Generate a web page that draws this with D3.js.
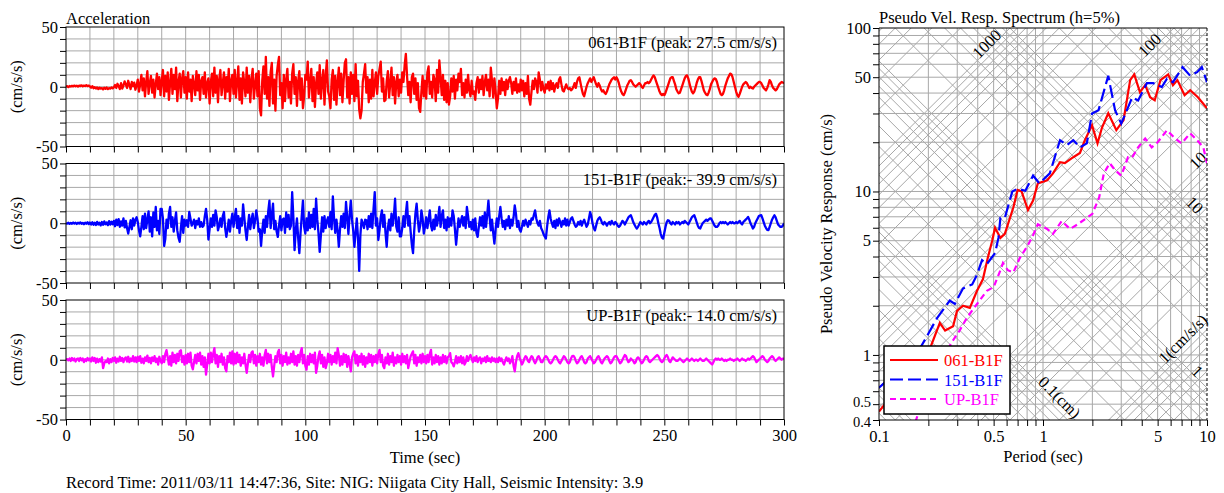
<!DOCTYPE html>
<html><head><meta charset="utf-8">
<script src="https://cdn.jsdelivr.net/npm/d3@7"></script>
<style>
html,body{margin:0;padding:0;background:#fff;}
svg{display:block;font-family:"Liberation Serif","Times New Roman",serif;}
</style></head><body>
<svg id="chart" width="1224" height="493"></svg>
<script>
// ---------------- DATA ----------------
const timeTickLabels = [0,50,100,150,200,250,300];
const accTickLabels = [50,0,-50];
const channelNames = ["061-B1F","151-B1F","UP-B1F"];
const peakTexts = ["061-B1F (peak: 27.5 cm/s/s)","151-B1F (peak:- 39.9 cm/s/s)","UP-B1F (peak:- 14.0 cm/s/s)"];
const footerText = "Record Time: 2011/03/11 14:47:36, Site: NIG: Niigata City Hall, Seismic Intensity: 3.9";

// acceleration samples, one row per 10 s (0.5 s step), last row = value at 300 s
const acc061 = [
[0,0.5,-0.3,0.6,0.2,0.8,0.3,1,0.4,0.9,0.2,1,0.5,1.2,0.4,1,0.6,1.3,0.5,1],
[0.3,-0.8,0.5,-1.2,-0.4,-1.5,-0.6,-2,-0.8,-1.6,-1.1,-2.2,-0.9,-1.8,-0.7,-2,-1.2,-1.6,-0.6,-1.4],
[-0.5,1.5,-1,2.5,0.5,-2,3,-1.5,1,4.5,2,-1,5,1.5,-2,4,0.5,3.5,-2.5,1],
[6,-4,2,10,-3,7,-8,4,13,-6,3,9,-5,6,-9,2,11,-2,8,-7],
[5,14,-8,9,-4,12,-11,3,15,-6,10,-2,16,-12,4,11,-9,7,13,-5],
[8,-10,12,-4,6,-12,9,2,-7,13,-3,10,-11,5,8,-6,12,-9,3,7],
[-14,4,11,-8,16,-5,9,-13,6,14,-7,3,12,-10,8,-4,15,-12,5,10],
[-6,14,-9,4,17,-11,7,-14,12,3,-8,16,-5,9,-13,6,15,-10,2,11],
[-8,13,-18,-24,5,17,-6,25,-10,8,-16,12,20,-14,6,-20,9,18,25,-7],
[3,-18,10,-12,6,15,-9,4,-14,11,19,-6,8,-16,5,13,-11,7,-18,-8],
[10,6,21,-9,4,15,-12,8,-17,3,12,-6,18,-10,5,14,-15,9,22,-4],
[-8,-18,6,14,-11,9,-15,4,16,-7,11,-13,5,20,23,-9,8,-14,12,-6],
[10,-12,19,-8,5,-19,-26.5,-20,4,11,19,-5,8,-13,6,-10,14,-8,3,12],
[-6,9,15,21,-4,7,-12,-11,5,13,-9,3,16,-7,8,-14,4,10,-8,6],
[-5,12,4,18,27.5,9,-7,4,-13,8,11,-6,7,-11,3,-18,-21,-4,9,-8],
[5,-10,12,17,-6,4,-9,10,6,-12,14,-5,22,8,-7,10,-11,5,-13,3],
[-15,-8,7,-4,9,-10,6,-3,11,4,15,-7,3,-9,6,-5,10,-3,-8,5],
[-6,-4,-11,3,8,-5,6,-2,9,-7,4,10,-3,6,-8,16,5,-9,7,-4],
[-18,-10,5,-6,7,-3,4,-7,6,-2,5,8,3,-6,4,-3,7,-5,2,-4],
[6,-3,5,-8,3,-6,9,-10,-15,-4,5,-2,7,4,-5,12,6,-3,4,-2],
[-5,2,-1.5,4,-3,5,-2,3,-4,1,3,-1,6,8,2,-3,-4,-1,2,-1],
[-2,-1,-3,-2,0,3,-1,4,7,8,3,-2,-6,-8,-4,0,3,5,7,4],
[6,8,5,2,0,3,1,-2,-4,-3,-5,-6,-4,-1,2,4,6,7,8,6],
[8,6,3,-1,-4,-6,-7,-5,-2,1,3,5,5.5,4,2,1,0,1,2,3],
[2,0,-1,1,3,3,4,3,4,6,8,9.5,8,5,2,-1,-4,-6,-7,-6],
[-7,-5,-2,1,4,7,8,8,5,2,-2,-4,-5.5,-5,-2,1,4,7,9,9.5],
[7,3,-1,-4,-5.5,-4,-1,3,6,8,8,5,1,-3,-5,-6.5,-7,-5,-2,2],
[4,6,7,6.5,4,0,-3,-6,-7,-6,-3,1,4,7,9,11,10.5,8,4,0],
[-4,-7,-8.5,-6,-3,0,2,3,4,3,1,-1,0,-1,-1.5,0,1,2,3,4],
[4,3,1,-1,-2,-3,-1,2,5.5,4,1,-1,-2,-3,-2,0,2,3,4,3.5],
[3]
];
const acc151 = [
[0,-0.3,0.4,-0.5,0.3,-0.4,0.6,-0.2,0.5,-0.6,0.4,-0.3,0.7,-0.5,0.3,-0.8,0.5,-0.4,0.8,-0.6],
[0.6,-1,0.8,-1.2,0.5,-1.5,1.2,-1,0.4,-1.8,1,-1.3,1.5,-0.8,0.6,-1.6,1.8,-1.2,1.3,-0.9],
[2,-2.5,3,-1.5,3.5,-3,1.5,-2,4,-3.5,2,-4,-8.6,-3,2.5,-5,4,-2,3,5],
[1,-6,-11,-3,6,-5,8,-4,3,10,-7,5,-11,9,-3,13.6,-6,2,-9,12],
[12,4,-19,-13,3,-4,8,13.6,-3,5,-7,2,9,-6,-12,-15.5,-4,6,-8,3],
[-2,2.5,-3,9.4,4,-2,0,3,-4,2,-1,4,-3,1,-3,-2,6,12,3,-13.6],
[-5,4,-3,7,-2,10.8,5,-6,-2,4,-3,6,9.4,-4,-11.4,-5,3,-7,2,8],
[-3,5,12,-4,6,-8,4,-2,15.8,5,-6,-14,-3,7,-5,3,8,-4,2,10.8],
[4,-7,-5,-19,-6,3,-8,6,-3,10,19,-4,7,16.4,-5,2,-7,-11.4,-2,6],
[-6,3,4,-8,9,-3,7,-5,-2,26,5,-22.5,-6,4,-12,-25,-8,6,19,-3],
[-8.6,4,-6,9,-4,7,-3,12,-5,20.5,3,-8,-24,-10,5,-7,6,-4,2,5],
[-3,9.4,-5,22.5,4,-8,3,-6,-19.7,-5,6,-3,8,-4,17.8,5,-9,7,19,3],
[-6,-19.7,-8,4,-12,-39.9,-10,3,0,-4,3,2.5,-5,6,-3,8,-4,12,26,-2],
[4,-14,-6,5,10.8,-3,7,-8,-19.7,-4,3,-6,8,-2,6,20.5,-3,-7,5,-11],
[-11,-4,6,-3,8,17.8,-2,6,-7,-18,-25,-6,8,16.4,3,-7,-2,10.8,4,-8.6],
[-3,5,-4,3,10.8,-2,-6,3,-5,7,-2,4,13.6,-3,6,10.8,-4,3,-6,5],
[-3,4,-2,10.8,6,-5,-18,-7,4,-3,2,6,-2,5,-4,13.6,6,-3,1,-5],
[3,-6,4,-8,-11.4,-3,5,-2,6,-4,9,-3,7,19,5,-6,3,-8,-17,-5],
[4,-3,6,13.6,4,-3,2,-5,3,-2,6,-4,3,-2,5,15,8,-3,2,-5],
[-7,-3,2,-2,3,0,-3,2,-1,4,3,7,10.8,4,0,-2,2,-4,-6,-9],
[-11,-12.8,-3,5,10.8,4,0,-3,2,-4,3,-2,4,1,-3,2,-1,4,-2,3],
[-2,1,4,5,2,-1,-3,-2,1,-1,2,-2,1,3,0,-3,-1,4,9.4,6],
[0,-4,-6,-2,2,4,5,3,0,-1,1,0,-2,0,1,-1,2,0,-1,1],
[0,-2,-3,-2,0,2,1,-1,1,3,5,6,6.7,4,1,-1,-3,-4.4,-3,-1],
[1,0,-1,1,0,-1,1,2,0,1,3,5,7,8,5,0,-4,-9,-12,-12.8],
[-8,-3,1,2.5,2,0,-1,1,0,-1,1,0,1,-1,0,1,0,2,1,0],
[-1,1,3,5,6,6.7,4,1,-2,-4,-4.4,-2,0,1,2,3,2,3,4,4],
[2,0,-2,-3,-3,-2,0,1,0,1,0,1,0,-1,0,1,0,1,0,0],
[1,0,1,2,0,-1,1,2,3,4,5.3,3,0,-2,-4.4,-3,0,2,4,6],
[6.5,6.7,4,1,-2,-4,-5.5,-5.8,-3,0,3,5,6.7,5,2,-1,-2,-3,-3,-2],
[0]
];
const accUP = [
[0,0.5,-0.5,1,-1,1.5,-0.5,1,-1.5,0.5,1,-1,1.5,-0.5,1,-2,0.5,-1,1.5,-0.5],
[1,-1.5,2,-1,1.5,-2.5,1,-2,0.5,-1.5,2,-7,-3,-1,-2,1,-3,0.5,-2,1.5],
[-1,2,-2.5,1,-1.5,2.5,-1,1.5,-2,1,2,-1.5,2.5,-2,1,-1,3,-1.5,2,-2],
[2.5,-1,3,-2.5,1,-3,2,-1,3.5,-2,1.5,-3,2,-1,3,-2,1,-4,2.5,-1],
[-3,3,-2,5,8,2,-4,3,-5,6,-2,4,-3,5,-1,7,8,-2,3,-4],
[4,-3,5,-2,6,-5,-8,-2,4,-3,5,-1,6,-4,3,-6,2,-12.5,-4,5],
[-3,6,-2,5,9.7,-3,4,-6,3,-2,5,-4,2,-7,-9.7,3,-2,6,-3,7],
[-4,5,-3,6,-2,4,-5,2,-3,5,-4,-11,-3,4,-2,6,7,-3,4,-5],
[3,-2,5,-4,2,-5,4,8.3,-3,5,-2,4,-6,-14,-5,3,-2,6,8.3,-3],
[4,-5,3,-2,6,-4,2,-3,5,-2,7,-4,3,-5,4,-2,6,9.7,-3,4],
[-5,-8.3,3,-4,5,-2,4,-3,6,-11,-5,3,7,-3,4,-6,2,-7,-3,5],
[-2,4,-4,3,-2,6,-3,9.7,4,-5,3,-4,5,-2,4,-6,3,-3,-9.7,2],
[5,7,-3,4,-5,3,-2,5,-4,3,-6,2,-3,5,-2,4,-5,3,-2,4],
[-3,5,8.3,-2,4,-5,-7,2,-3,5,-4,3,-2,6,-5,2,-3,4,-2,3],
[-4,5,-2,3,-3,4,-7,-2,3,5,7,-3,4,-5,2,-2,4,-3,5,-2],
[3,-3,4,-2,5,8.3,-4,2,-3,4,-2,3,-4,2,-3,4,-2,3,-3,2],
[3,5.5,-2,-3,-5.5,-2,3,-3,2,-2,3,-3,2,-4,-2,3,-1,2,4,1],
[-2,2,-1,3,-2,1,2,-3,1,-1,2,-2,3,-1,1,-2,2,-1,1,-2],
[1,-2,2,-1,1,-2,-4,-1,2,-1,1,-3,-1,3,-5,-9.7,-2,3,5.5,2],
[-1,-4,-2,1,3,2,-1,-2,1,3,2,-1,-3,-1,2,3,1,-2,-2,0],
[2,3,2,0,-2,-3,-2,0,2,3,2,0,-2,-3,-1,1,3,2,0,-2],
[-3,-2,1,3,3.3,2,-1,-3,-2,0,2,3,1,-2,-3,-2,1,2,3,1],
[-1,-3,-2,0,2,3,1,-2,-3,-1,1,2,3,2,-1,-3,-2,0,2,3],
[3,1,-1,-3,-2,0,2,4,3,0,-2,-1,1,0,-1,-3,-2,1,2,1],
[-1,-3,-2,0,2,3,2,-1,-2,-1,0,1,2,3,4,3,1,-1,-2,-1],
[1,3,4,2,-1,-2,0,2,1,0,-1,-1,0,1,0,-1,-2,-1,0,1],
[0,-1,0,1,0,-1,0,0,-1,0,1,0,-1,-1,0,1,0,-1,-2,-3],
[-4,-2,0,1,0,1,0,0,1,0,-1,0,-1,0,0,1,0,0,-1,0],
[0,1,0,-1,0,1,0,0,-1,0,1,0,1,2,3,2,0,-2,-1,0],
[1,2,3,2,0,-1,-2,-1,1,2,3,2,0,-1,0,1,2,1,0,1],
[1]
];

// pseudo velocity response spectra: [period (s), Sv (cm/s)]
const psv061 = [[0.1,0.45],[0.15,0.75],[0.205,1.1],[0.235,1.57],[0.253,1.41],[0.283,1.5],[0.299,1.86],[0.325,2.0],[0.358,1.94],[0.396,2.47],[0.43,2.9],[0.46,3.9],[0.49,5.0],[0.51,6.0],[0.55,5.2],[0.585,5.5],[0.66,8.0],[0.70,10.2],[0.74,10.0],[0.81,7.7],[0.87,8.8],[0.93,11.2],[1.06,11.7],[1.15,12.9],[1.27,15.1],[1.36,14.9],[1.53,16.2],[1.68,17.2],[1.8,20.6],[1.99,25.4],[2.15,19.7],[2.29,24.6],[2.5,30.1],[2.8,23.7],[3.1,27.3],[3.4,48],[3.6,52],[3.9,40.5],[4.2,44.7],[4.5,37.7],[4.8,36.1],[5.2,48],[5.8,52],[6.2,44.7],[6.6,48],[7.3,38.8],[7.9,41.6],[8.8,37.7],[10,32.3]];
const psv151 = [[0.1,0.63],[0.14,0.85],[0.178,1.1],[0.195,1.29],[0.226,1.68],[0.27,2.15],[0.29,2.05],[0.325,2.55],[0.37,2.7],[0.396,3.1],[0.425,3.8],[0.455,3.6],[0.51,4.2],[0.535,5.2],[0.55,6.9],[0.585,6.9],[0.65,10.0],[0.70,10.4],[0.78,10.1],[0.87,12.5],[0.95,11.2],[1.1,12.9],[1.27,20.6],[1.4,19.2],[1.53,20.6],[1.68,18.6],[1.85,19.7],[1.99,30],[2.18,31.4],[2.5,51],[2.75,31.4],[3.0,26],[3.5,37.7],[3.8,36],[4.3,46],[4.7,46],[5.3,43.5],[5.7,49],[6.2,46.6],[7.1,57.6],[7.9,51],[8.7,53.7],[9.3,57.6],[10,46.6]];
const psvUP = [[0.16,0.34],[0.185,0.54],[0.213,0.77],[0.245,0.96],[0.283,1.23],[0.31,1.41],[0.345,1.7],[0.396,2.05],[0.455,2.47],[0.50,2.6],[0.55,3.3],[0.57,3.65],[0.61,3.3],[0.66,3.2],[0.72,3.9],[0.8,4.6],[0.87,5.4],[0.93,6.3],[1.06,5.9],[1.15,5.5],[1.3,6.6],[1.46,5.9],[1.63,6.3],[1.85,6.9],[2.0,7.3],[2.2,9.2],[2.35,12.9],[2.55,14.9],[2.75,13.5],[3.0,12.5],[3.3,16.2],[3.5,16.2],[3.8,18.6],[4.2,21.1],[4.6,18.6],[5.0,20],[5.7,23.7],[6.4,21.1],[7.0,19.7],[7.9,22.7],[8.7,20.6],[9.5,18.6],[10,14.9]];

const periodTickLabels = [0.1,0.5,1,5,10];
const svTickLabels = [0.4,0.5,1,5,10,50,100];
// tripartite grid labels: [kind, value, period at label, text]
const tripLabels = [["acc",1000,0.478,"1000"],["acc",100,4.7,"100"],["acc",10,9.25,"10"],["acc",1,7.5,"1(cm/s/s)"],
                    ["disp",10,8.0,"10"],["disp",1,8.3,"1"],["disp",0.1,1.2,"0.1(cm)"]];

// ---------------- DRAW ----------------
const svg = d3.select("#chart");
const FS = 16.5;
const GRID = "#a8a8a8";
const traceColors = ["#ff0000","#0000ff","#ff00ff"];

function styleAxis(g){
  g.select(".domain").remove();
  g.selectAll(".tick line").attr("stroke","#000").attr("stroke-width",1);
  g.selectAll(".tick text").attr("font-size",FS).attr("font-family","Liberation Serif, serif").attr("fill","#000");
}

// ---- left: acceleration records
const x = d3.scaleLinear().domain([0,300]).range([66,784]);
const panelTops = [27,163.5,300];
const panelH = 119.5;
[acc061,acc151,accUP].forEach((rows,i)=>{
  const top = panelTops[i], bot = top+panelH;
  const y = d3.scaleLinear().domain([-50,50]).range([bot,top]);
  const g = svg.append("g");
  g.append("g").selectAll("line").data(d3.range(10,300,10)).join("line")
    .attr("x1",d=>x(d)).attr("x2",d=>x(d)).attr("y1",top).attr("y2",bot)
    .attr("stroke",GRID).attr("stroke-width",1);
  g.append("g").selectAll("line").data(d3.range(-40,50,10)).join("line")
    .attr("x1",x(0)).attr("x2",x(300)).attr("y1",d=>y(d)).attr("y2",d=>y(d))
    .attr("stroke",GRID).attr("stroke-width",1);
  const cid = "clipAcc"+i;
  svg.append("clipPath").attr("id",cid).append("rect")
    .attr("x",x(0)).attr("y",top).attr("width",x(300)-x(0)).attr("height",panelH);
  const pts = [];
  rows.forEach((row,r)=>row.forEach((v,k)=>pts.push([r*10+k*10/row.length, v])));
  g.append("path").datum(pts).attr("clip-path",`url(#${cid})`)
    .attr("d",d3.line().x(d=>x(d[0])).y(d=>y(d[1])))
    .attr("fill","none").attr("stroke",traceColors[i]).attr("stroke-width",2.3)
    .attr("stroke-linejoin","round");
  g.append("rect").attr("x",x(0)).attr("y",top).attr("width",x(300)-x(0)).attr("height",panelH)
    .attr("fill","none").attr("stroke","#000").attr("stroke-width",1);
  const ay = g.append("g").attr("transform",`translate(${x(0)},0)`)
    .call(d3.axisLeft(y).tickValues(d3.range(-50,51,10)).tickSize(6).tickPadding(2)
      .tickFormat(d=>accTickLabels.includes(d)?String(d):""));
  styleAxis(ay);
  const ax = g.append("g").attr("transform",`translate(0,${bot})`)
    .call(d3.axisBottom(x).tickValues(d3.range(0,301,10)).tickSize(6).tickPadding(4)
      .tickFormat(d=>(i===2 && timeTickLabels.includes(d))?String(d):""));
  styleAxis(ax);
  g.append("text").attr("transform",`translate(22,${(top+bot)/2}) rotate(-90)`)
    .attr("text-anchor","middle").attr("font-size",FS).text("(cm/s/s)");
  g.append("text").attr("x",777).attr("y",top+21).attr("text-anchor","end")
    .attr("font-size",FS).text(peakTexts[i]);
});
svg.append("text").attr("x",66).attr("y",23.5).attr("font-size",FS).text("Acceleration");
svg.append("text").attr("x",(x(0)+x(300))/2).attr("y",463).attr("text-anchor","middle").attr("font-size",FS).text("Time (sec)");
svg.append("text").attr("x",66).attr("y",488).attr("font-size",FS).text(footerText);

// ---- right: tripartite pseudo-velocity spectrum
const xs = d3.scaleLog().domain([0.1,10]).range([879,1207]);
const ys = d3.scaleLog().domain([0.4,100]).range([420,28]);
const rg = svg.append("g");
svg.append("clipPath").attr("id","clipSp").append("rect")
  .attr("x",xs(0.1)).attr("y",ys(100)).attr("width",xs(10)-xs(0.1)).attr("height",ys(0.4)-ys(100));
const decadeVals = (k0,k1)=>{const a=[];for(let k=k0;k<=k1;k++)for(let m=1;m<=9;m++)a.push(+(m*Math.pow(10,k)).toPrecision(6));return a;};
const periodTicks = decadeVals(-1,0).concat([10]);
const svTicks = [0.4,0.5,0.6,0.7,0.8,0.9].concat(decadeVals(0,1)).concat([100]);
const gridG = rg.append("g").attr("clip-path","url(#clipSp)");
gridG.selectAll("line.v").data(periodTicks.filter(t=>t>0.1&&t<10)).join("line").attr("class","v")
  .attr("x1",d=>xs(d)).attr("x2",d=>xs(d)).attr("y1",ys(100)).attr("y2",ys(0.4)).attr("stroke",GRID);
gridG.selectAll("line.h").data(svTicks.filter(s=>s>0.4&&s<100)).join("line").attr("class","h")
  .attr("y1",d=>ys(d)).attr("y2",d=>ys(d)).attr("x1",xs(0.1)).attr("x2",xs(10)).attr("stroke",GRID);
const TWO_PI = 2*Math.PI;
const dispVals = decadeVals(-3,2), accVals = decadeVals(-1,3);
gridG.selectAll("line.d").data(dispVals).join("line").attr("class","d")
  .attr("x1",xs(0.1)).attr("y1",d=>ys(TWO_PI*d/0.1)).attr("x2",xs(10)).attr("y2",d=>ys(TWO_PI*d/10))
  .attr("stroke",GRID);
gridG.selectAll("line.a").data(accVals).join("line").attr("class","a")
  .attr("x1",xs(0.1)).attr("y1",a=>ys(a*0.1/TWO_PI)).attr("x2",xs(10)).attr("y2",a=>ys(a*10/TWO_PI))
  .attr("stroke",GRID);
// diagonal labels
tripLabels.forEach(([kind,val,T,txt])=>{
  const sv = kind==="acc" ? val*T/TWO_PI : TWO_PI*val/T;
  const ang = kind==="acc" ? -45 : 45;
  rg.append("text").attr("transform",`translate(${xs(T)},${ys(sv)}) rotate(${ang})`)
    .attr("x",0).attr("y",-5).attr("text-anchor","middle").attr("dominant-baseline","central")
    .attr("font-size",FS).attr("fill","#000").text(txt);
});
// spectra
const sline = d3.line().x(d=>xs(d[0])).y(d=>ys(d[1]));
const specStyles = [{c:"#ff0000",dash:null},{c:"#0000ff",dash:"13,5"},{c:"#ff00ff",dash:"6,4"}];
[psv061,psv151,psvUP].forEach((s,i)=>{
  rg.append("path").datum(s).attr("clip-path","url(#clipSp)").attr("d",sline)
    .attr("fill","none").attr("stroke",specStyles[i].c).attr("stroke-width",2.2)
    .attr("stroke-dasharray",specStyles[i].dash);
});
// frame
rg.append("line").attr("x1",xs(0.1)).attr("x2",xs(10)).attr("y1",ys(100)).attr("y2",ys(100)).attr("stroke","#000");
rg.append("line").attr("x1",xs(0.1)).attr("x2",xs(10)).attr("y1",ys(0.4)).attr("y2",ys(0.4)).attr("stroke","#000");
rg.append("line").attr("x1",xs(0.1)).attr("x2",xs(0.1)).attr("y1",ys(100)).attr("y2",ys(0.4)).attr("stroke","#000");
rg.append("line").attr("x1",xs(10)).attr("x2",xs(10)).attr("y1",ys(100)).attr("y2",ys(0.4)).attr("stroke","#000").attr("stroke-dasharray","3,2");
const fmtTick = (labels)=>d=>{const f=labels.find(l=>Math.abs(l-d)<1e-9);return f===undefined?"":String(f);};
const ryAx = rg.append("g").attr("transform",`translate(${xs(0.1)},0)`)
  .call(d3.axisLeft(ys).tickValues(svTicks).tickSize(6).tickPadding(2).tickFormat(fmtTick(svTickLabels)));
styleAxis(ryAx);
// the two lowest labels sit close together: shrink and nudge apart slightly
ryAx.selectAll(".tick text").filter(d=>Math.abs(d-0.5)<1e-9)
  .attr("font-size",14.5).attr("transform","translate(0,-2)");
ryAx.selectAll(".tick text").filter(d=>Math.abs(d-0.4)<1e-9)
  .attr("font-size",14.5).attr("transform","translate(0,1.5)");
const rxAx = rg.append("g").attr("transform",`translate(0,${ys(0.4)})`)
  .call(d3.axisBottom(xs).tickValues(periodTicks).tickSize(6).tickPadding(4).tickFormat(fmtTick(periodTickLabels)));
styleAxis(rxAx);
rg.append("text").attr("x",xs(0.1)).attr("y",23).attr("font-size",FS).text("Pseudo Vel. Resp. Spectrum (h=5%)");
rg.append("text").attr("x",(xs(0.1)+xs(10))/2).attr("y",462).attr("text-anchor","middle").attr("font-size",FS).text("Period (sec)");
rg.append("text").attr("transform",`translate(832,${(ys(100)+ys(0.4))/2}) rotate(-90)`)
  .attr("text-anchor","middle").attr("font-size",FS).text("Pseudo Velocity Response (cm/s)");
// legend
const lg = rg.append("g");
lg.append("rect").attr("x",884).attr("y",346).attr("width",126).attr("height",68)
  .attr("fill","#fff").attr("stroke","#000").attr("stroke-width",1.5);
channelNames.forEach((n,i)=>{
  const yy = 360 + i*19.5;
  lg.append("line").attr("x1",890).attr("x2",938).attr("y1",yy).attr("y2",yy)
    .attr("stroke",specStyles[i].c).attr("stroke-width",2.2).attr("stroke-dasharray",specStyles[i].dash);
  lg.append("text").attr("x",944).attr("y",yy+6).attr("font-size",FS).attr("fill",specStyles[i].c).text(n);
});
</script>
</body></html>
